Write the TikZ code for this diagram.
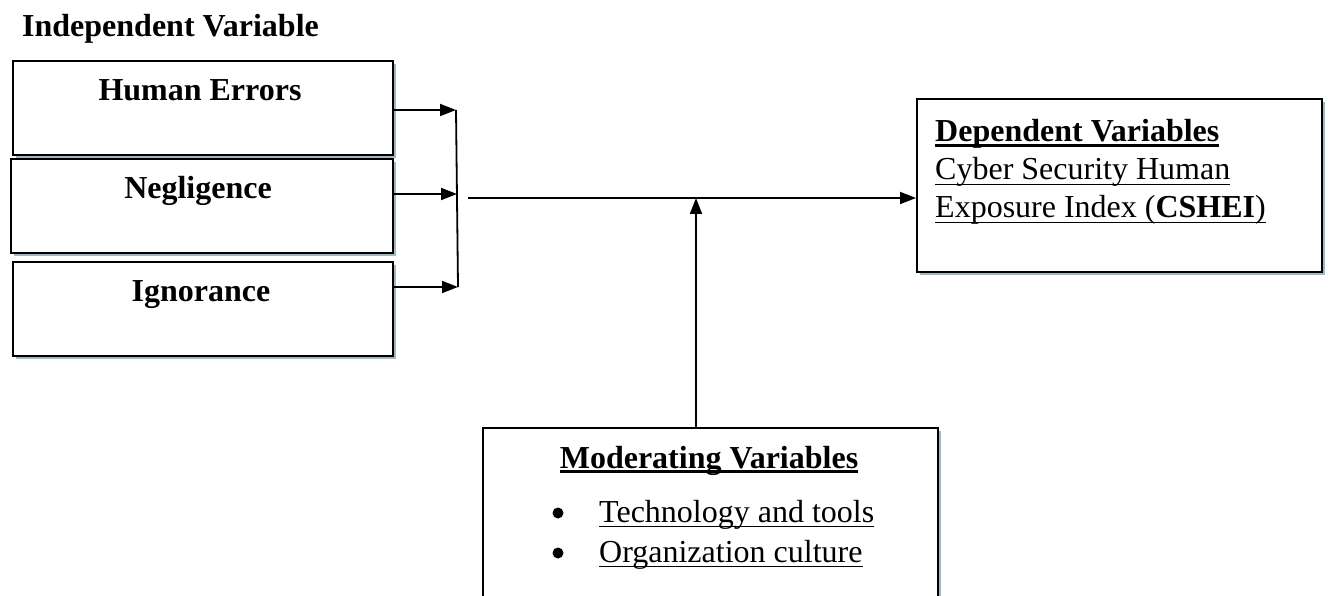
\documentclass[tikz,border=0pt]{standalone}
\usepackage{fontspec}
\setmainfont{Liberation Serif}
\usetikzlibrary{arrows.meta,shadows,calc}
\definecolor{shadowc}{HTML}{A3B9C2}
\newcommand{\myul}[2]{\setbox0=\hbox{#2}\rlap{\rule[-5pt]{\wd0}{#1}}\box0}
\tikzset{
  box/.style={draw, fill=white, line width=1.6pt, rectangle, anchor=north west, inner sep=0pt,
    general shadow={fill=shadowc, shadow xshift=3.5pt, shadow yshift=-3.5pt}},
  txt/.style={font=\fontsize{32}{38}\selectfont, inner sep=0pt},
  dot/.style={circle, fill=black, draw=none, minimum size=11pt, inner sep=0pt},
  conn/.style={line width=1.8pt},
  arr/.style={conn, -{Triangle[length=16pt,width=12pt]}}
}
\begin{document}
\begin{tikzpicture}[x=1pt,y=-1pt]
\clip (0,0) rectangle (1328,596);
\fill[white] (0,0) rectangle (1328,596);
% boxes
\node[box, minimum width=380pt, minimum height=94pt] (he) at (12,60) {};
\node[box, minimum width=382pt, minimum height=94pt] (ne) at (10,158) {};
\node[box, minimum width=380pt, minimum height=94pt] (ig) at (12,261) {};
\node[box, minimum width=405pt, minimum height=173pt] (dep) at (916,98) {};
\node[box, minimum width=455pt, minimum height=260pt] (mod) at (482,427) {};
% texts
\node[txt, anchor=base west] (iv) at (22,37) {\textbf{Independent Variable}};
\node[txt, anchor=base] (het) at (200,101) {\textbf{Human Errors}};
\node[txt, anchor=base] (net) at (198,199) {\textbf{Negligence}};
\node[txt, anchor=base] (igt) at (201,301) {\textbf{Ignorance}};
\node[txt, anchor=base west] (dt1) at (935,142) {\myul{2.6pt}{\textbf{Dependent Variables}}};
\node[txt, anchor=base west] (dt2) at (935,180) {\myul{1.4pt}{Cyber Security Human}};
\node[txt, anchor=base west] (dt3) at (935,218) {\myul{1.4pt}{Exposure Index (\textbf{CSHEI})}};
\node[txt, anchor=base] (mt1) at (709,468) {\myul{2.6pt}{\textbf{Moderating Variables}}};
\node[dot] (mb1) at (558,513) {};
\node[txt, anchor=base west] (mt2) at (599,522) {\myul{1.4pt}{Technology and tools}};
\node[dot] (mb2) at (558,553) {};
\node[txt, anchor=base west] (mt3) at (599,562) {\myul{1.4pt}{Organization culture}};
% connectors
\coordinate (j1) at (456,110);
\coordinate (j2) at (457,194);
\coordinate (j3) at (458,287);
\coordinate (m0) at (468,198);
\coordinate (mv) at (696,198);
\draw[arr] (he.east |- j1) -- (j1);
\draw[arr] (ne.east |- j2) -- (j2);
\draw[arr] (ig.east |- j3) -- (j3);
\draw[conn] (j1) -- (j3);
\draw[arr] (m0) -- (dep.west |- m0);
\draw[arr] (mod.north -| mv) -- (mv);
\end{tikzpicture}
\end{document}
